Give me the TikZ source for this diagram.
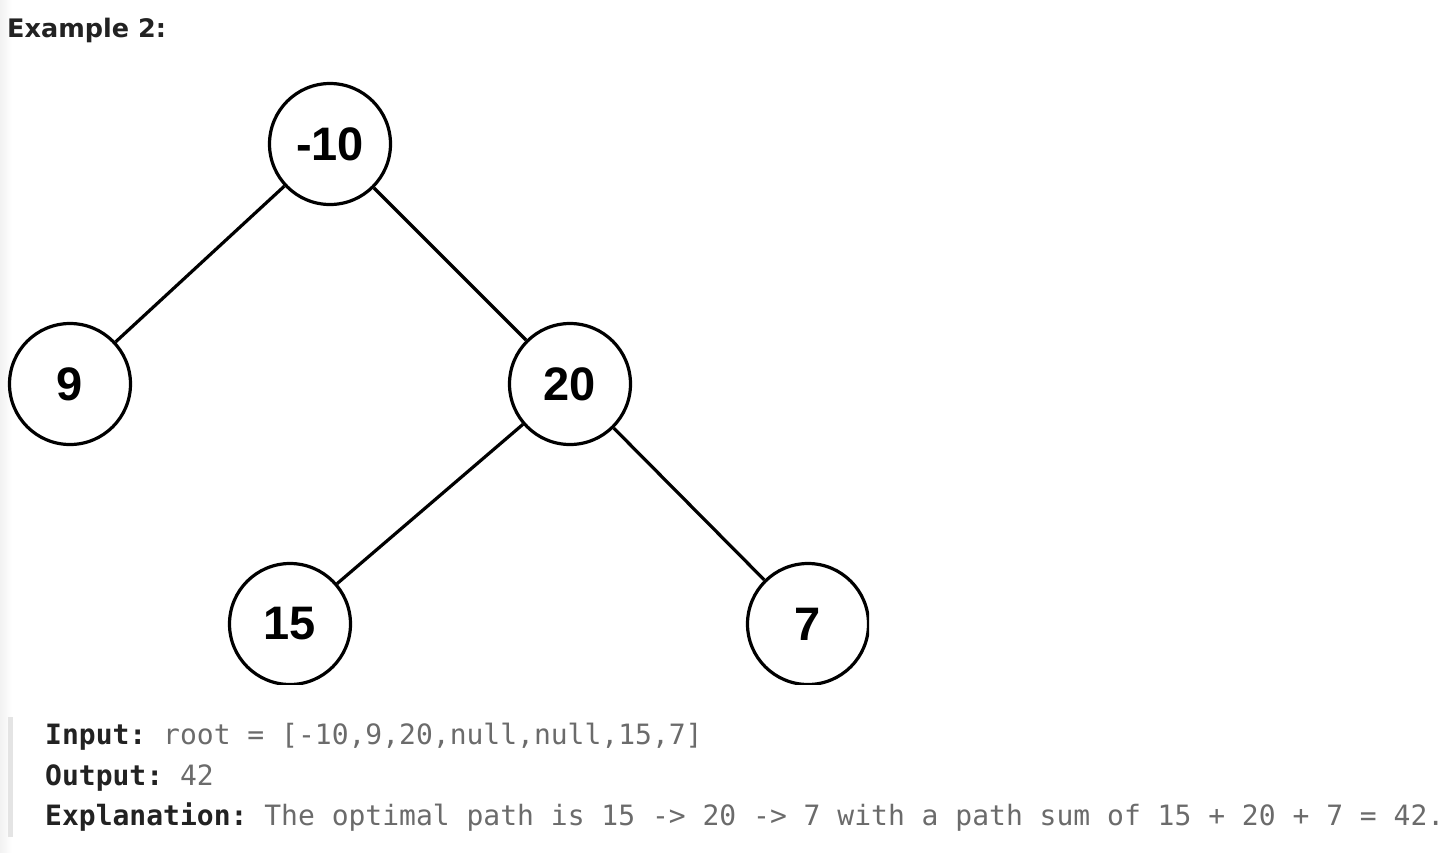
\documentclass[tikz,border=0pt]{standalone}
\usepackage{fontspec}
\setmainfont{Liberation Sans}
\newfontfamily\titlefont{DejaVu Sans}
\newfontfamily\codefont{DejaVu Sans Mono}
\definecolor{ink}{HTML}{000000}
\definecolor{labelink}{HTML}{222222}
\definecolor{valueink}{HTML}{6B6B6B}
\definecolor{quotebar}{HTML}{E4E4E4}
\definecolor{edgeshade}{HTML}{F2F2F2}
\tikzset{
  treenode/.style={circle, draw=ink, line width=3.2pt, fill=white,
    minimum size=121pt, inner sep=0pt,
    font=\fontsize{47}{50}\selectfont\bfseries},
  treeedge/.style={draw=ink, line width=3.2pt},
  codeline/.style={anchor=base west, inner sep=0pt,
    font=\codefont\fontsize{28}{34}\selectfont\frenchspacing},
}
\begin{document}
\frenchspacing
\begin{tikzpicture}[x=1pt, y=-1pt]
  \useasboundingbox (0,0) rectangle (1454,852);
  \fill[white] (0,0) rectangle (1454,852);
  % faint shading along the left page edge
  \shade[left color=edgeshade, right color=white] (0,0) rectangle (12,852);

  % heading
  \node[anchor=base west, inner sep=0pt, text=labelink,
        font=\titlefont\fontsize{25.5}{30}\selectfont\bfseries]
        (title) at (7,37) {Example 2:};

  % binary tree
  \begin{scope}
    \clip (0,0) rectangle (869,684);
    \node[treenode] (n10) at (330,144) {-10};
    \node[treenode] (n9)  at (70,384)  {9};
    \node[treenode] (n20) at (570,384) {20};
    \node[treenode] (n15) at (290,624) {15};
    \node[treenode] (n7)  at (808,624) {7};
    \draw[treeedge] (n10) -- (n9);
    \draw[treeedge] (n10) -- (n20);
    \draw[treeedge] (n20) -- (n15);
    \draw[treeedge] (n20) -- (n7);
  \end{scope}

  % quoted example block
  \fill[quotebar] (8,717) rectangle (13,837);
  \node[codeline] (inp) at (45,744)
    {\textcolor{labelink}{\bfseries Input:} \textcolor{valueink}{root = [-10,9,20,null,null,15,7]}};
  \node[codeline] (outp) at (45,785)
    {\textcolor{labelink}{\bfseries Output:} \textcolor{valueink}{42}};
  \node[codeline] (expl) at (45,825)
    {\textcolor{labelink}{\bfseries Explanation:} \textcolor{valueink}{The optimal path is 15 -> 20 -> 7 with a path sum of 15 + 20 + 7 = 42.}};
\end{tikzpicture}
\end{document}
